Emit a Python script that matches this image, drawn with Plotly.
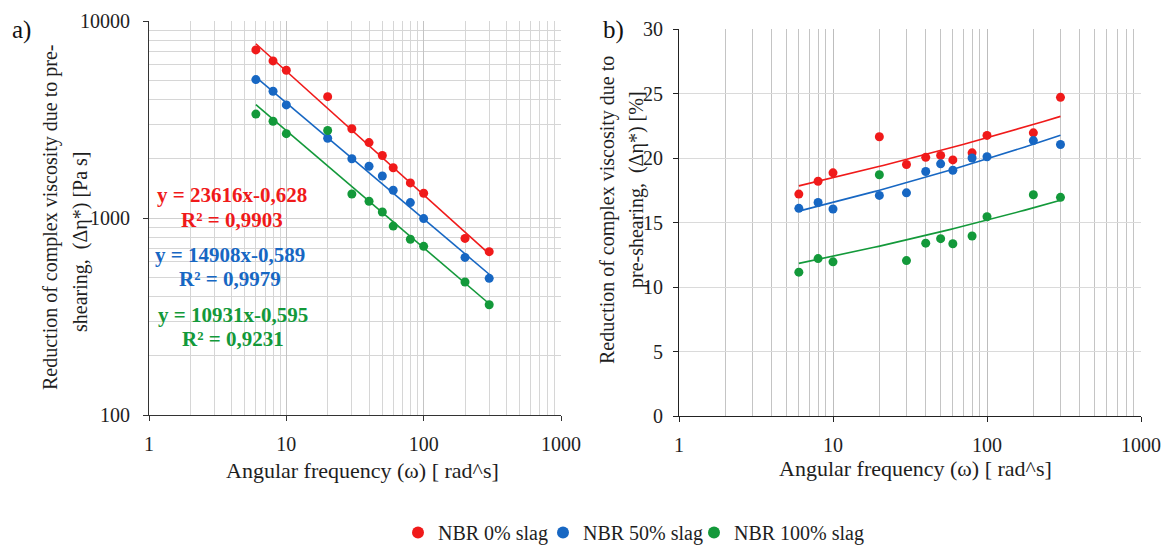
import numpy as np
import plotly.graph_objects as go

freq = [6, 8, 10, 20, 30, 40, 50, 60, 80, 100, 200, 300]
series_names = ["NBR 0% slag", "NBR 50% slag", "NBR 100% slag"]
colors = ["#f01a1a", "#1767c3", "#13993a"]

# panel a) reduction of complex viscosity [Pa s]
abs_0 = [7130, 6270, 5620, 4130, 2840, 2415, 2075, 1800, 1507, 1335, 788, 675]
abs_50 = [5040, 4400, 3750, 2540, 2000, 1830, 1633, 1383, 1197, 993, 631, 494]
abs_100 = [3370, 3100, 2680, 2780, 1324, 1216, 1073, 910, 780, 718, 473, 363]

# panel b) reduction of complex viscosity [%]
pct_0 = [17.2, 18.2, 18.85, 21.65, 19.5, 20.05, 20.2, 19.85, 20.4, 21.75, 21.95, 24.7]
pct_50 = [16.1, 16.55, 16.05, 17.1, 17.3, 18.95, 19.55, 19.05, 20.0, 20.1, 21.35, 21.05]
pct_100 = [11.15, 12.2, 11.95, 18.7, 12.05, 13.4, 13.75, 13.35, 13.95, 15.45, 17.15, 16.95]

# power-law trendline coefficients shown on panel a)
fit_a = [23616, 14908, 10931]
fit_b = [-0.628, -0.589, -0.595]
r2 = ["0,9903", "0,9979", "0,9231"]

abs_data = [abs_0, abs_50, abs_100]
pct_data = [pct_0, pct_50, pct_100]

FONT = "Liberation Serif, Times New Roman, serif"
W, H = 1163, 545
TXT = "#1e1e1e"

legend_ids = ["legend", "legend2", "legend3"]
legend_marker_x = [416, 561, 712]

fig = go.Figure()
xf = np.array(freq, dtype=float)
xline = np.geomspace(min(freq), max(freq), 60)

for i in range(3):
    # panel a
    yl = fit_a[i] * xline ** fit_b[i]
    fig.add_trace(go.Scatter(x=xline, y=yl, mode="lines", line=dict(color=colors[i], width=1.6),
                             xaxis="x", yaxis="y", showlegend=False, hoverinfo="skip"))
    fig.add_trace(go.Scatter(x=freq, y=abs_data[i], mode="markers", name=series_names[i],
                             marker=dict(color=colors[i], size=9), xaxis="x", yaxis="y",
                             showlegend=True, legend=legend_ids[i], legendgroup=series_names[i]))
    # panel b: power trendline fitted in log-log space
    p = np.polyfit(np.log(xf), np.log(np.array(pct_data[i])), 1)
    yl2 = np.exp(p[1]) * xline ** p[0]
    fig.add_trace(go.Scatter(x=xline, y=yl2, mode="lines", line=dict(color=colors[i], width=1.6),
                             xaxis="x2", yaxis="y2", showlegend=False, hoverinfo="skip"))
    fig.add_trace(go.Scatter(x=freq, y=pct_data[i], mode="markers", name=series_names[i],
                             marker=dict(color=colors[i], size=9), xaxis="x2", yaxis="y2",
                             showlegend=False, legendgroup=series_names[i]))

def minor_vals(lo, hi):
    vals = []
    for d in range(lo, hi):
        for k in range(2, 10):
            vals.append(k * 10 ** d)
    return vals

tickfont = dict(family=FONT, size=20, color=TXT)

# panel geometry (pixels)
ax_l, ax_r, ay_t, ay_b = 149, 561, 21, 415
bx_l, bx_r, by_t, by_b = 679, 1141, 29, 416

legends = {}
for i, lid in enumerate(legend_ids):
    legends[lid] = dict(orientation="h", x=(legend_marker_x[i] - 18) / W, xanchor="left",
                        y=-7 / H, yanchor="bottom",
                        font=dict(family=FONT, size=20, color=TXT), itemsizing="constant",
                        bgcolor="rgba(0,0,0,0)", itemwidth=30, borderwidth=0)

fig.update_layout(
    width=W, height=H,
    margin=dict(l=0, r=0, t=0, b=0, autoexpand=False),
    paper_bgcolor="white", plot_bgcolor="white",
    font=dict(family=FONT, size=20, color=TXT),
    xaxis=dict(type="log", range=[0, 3], domain=[ax_l / W, ax_r / W], anchor="y",
               tickvals=[1, 10, 100, 1000], ticktext=["1", "10", "100", "1000"],
               ticks="outside", ticklen=5, tickcolor="#333", tickfont=tickfont, ticklabelstandoff=6,
               showline=True, linecolor="#333", linewidth=1.2,
               showgrid=True, gridcolor="#c4c4c4", gridwidth=1,
               minor=dict(tickvals=minor_vals(0, 3), showgrid=True, gridcolor="#d6d6d6", ticks=""),
               zeroline=False),
    yaxis=dict(type="log", range=[2, 4], domain=[1 - ay_b / H, 1 - ay_t / H], anchor="x",
               tickvals=[100, 1000, 10000], ticktext=["100", "1000", "10000"],
               ticks="outside", ticklen=5, tickcolor="#333", tickfont=tickfont, ticklabelstandoff=9,
               showline=True, linecolor="#333", linewidth=1.2,
               showgrid=True, gridcolor="#d0d0d0", gridwidth=1,
               minor=dict(tickvals=minor_vals(2, 4), showgrid=True, gridcolor="#d6d6d6", ticks=""),
               zeroline=False),
    xaxis2=dict(type="log", range=[0, 3], domain=[bx_l / W, bx_r / W], anchor="y2",
                tickvals=[1, 10, 100, 1000], ticktext=["1", "10", "100", "1000"],
                ticks="outside", ticklen=5, tickcolor="#222", tickfont=tickfont, ticklabelstandoff=6,
                showline=True, linecolor="#222", linewidth=1.2,
                showgrid=True, gridcolor="#bdbdbd", gridwidth=1,
                minor=dict(tickvals=minor_vals(0, 3), showgrid=True, gridcolor="#c4c4c4", ticks=""),
                zeroline=False),
    yaxis2=dict(range=[0, 30], domain=[1 - by_b / H, 1 - by_t / H], anchor="x2",
                tickvals=[0, 5, 10, 15, 20, 25, 30],
                ticks="outside", ticklen=5, tickcolor="#222", tickfont=tickfont, ticklabelstandoff=6,
                showline=True, linecolor="#222", linewidth=1.2,
                showgrid=True, gridcolor="#dadada", gridwidth=1,
                zeroline=False),
    showlegend=True,
    **legends,
)

ann = []
def px(x):
    return x / W
def py(y):
    return 1 - y / H

def add_text(text, x, y, size, color=TXT, angle=0):
    ann.append(dict(text=text, x=px(x), y=py(y), xref="paper", yref="paper", showarrow=False,
                    xanchor="center", yanchor="middle", textangle=angle,
                    font=dict(family=FONT, size=size, color=color)))

# panel labels
add_text("a)", 21, 30, 25, "#111")
add_text("b)", 613, 30, 25, "#111")

# axis titles
add_text("Angular frequency (ω) [ rad^s]", 362, 470, 22)
add_text("Angular frequency (ω) [ rad^s]", 915, 468, 22)

add_text("Reduction of complex viscosity due to pre-", 50, 218, 20, angle=-90)
add_text("shearing,  (Δη*) [Pa s]", 80, 242, 20, angle=-90)
add_text("Reduction of complex viscosity due to", 607, 210, 20, angle=-90)
add_text("pre-shearing,  (Δη*) [%]", 636, 190, 20, angle=-90)

# trendline equations
eq_y = [(195, 220), (255, 279), (315, 339)]
eq_x = [232, 230, 233]
for i in range(3):
    eq = "y = %dx%s" % (fit_a[i], ("%.3f" % fit_b[i]).replace(".", ","))
    add_text("<b>%s</b>" % eq, eq_x[i], eq_y[i][0], 21, colors[i])
    add_text("<b>R² = %s</b>" % r2[i], eq_x[i], eq_y[i][1], 21, colors[i])

fig.update_layout(annotations=ann)
fig.write_html("out.html")
